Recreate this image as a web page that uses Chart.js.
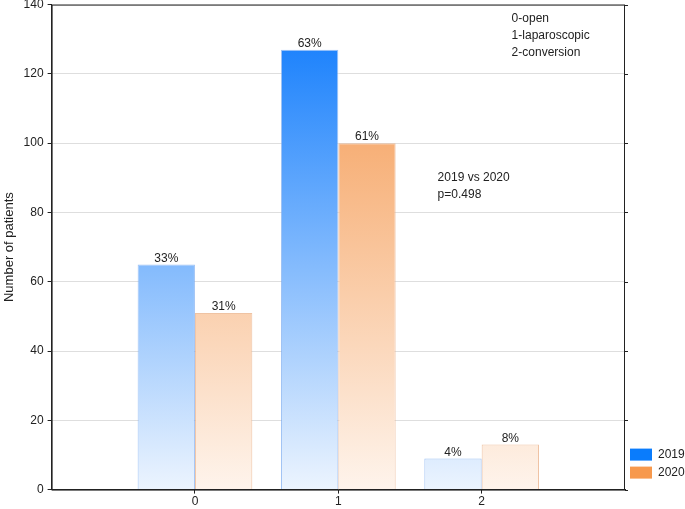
<!DOCTYPE html>
<html>
<head>
<meta charset="utf-8">
<script src="https://cdn.jsdelivr.net/npm/chart.js@4/dist/chart.umd.min.js"></script>
<style>
  body { margin: 0; background: #fff; }
  #wrap { width: 685px; height: 509px; }
</style>
</head>
<body>
<div id="wrap"><canvas id="barChart"></canvas></div>
<script>
// data
const categories = ["0", "1", "2"];
const patients2019 = [65, 127, 9];
const patients2020 = [51, 100, 13];
const pct2019 = ["33%", "63%", "4%"];
const pct2020 = ["31%", "61%", "8%"];
const yTicks = [0, 20, 40, 60, 80, 100, 120, 140];
const typeNotes = ["0-open", "1-laparoscopic", "2-conversion"];
const testNotes = ["2019 vs 2020", "p=0.498"];
const legendColors = ["#0a7cfc", "#f7994d"];

// empty slots either side so the three groups sit where the original has them
const labels = ["", ...categories, ""];
const pad = arr => [null, ...arr, null];

Chart.defaults.font.family = "'Liberation Sans', Arial, sans-serif";
Chart.defaults.font.size = 12;
Chart.defaults.color = "#222";

function grad(ctx, top, bottom) {
  const area = ctx.chart.chartArea;
  if (!area) return top;
  const g = ctx.chart.ctx.createLinearGradient(0, area.top, 0, area.bottom);
  g.addColorStop(0, top);
  g.addColorStop(1, bottom);
  return g;
}

// percentages above bars, notes, frame, legend
const extras = {
  id: "extras",
  afterDatasetsDraw(chart) {
    const c = chart.ctx;
    const a = chart.chartArea;
    const y = chart.scales.y;
    c.save();
    c.fillStyle = "#222";
    c.font = "12px 'Liberation Sans', Arial, sans-serif";
    c.textAlign = "center";
    c.textBaseline = "bottom";
    [pct2019, pct2020].forEach((pcts, di) => {
      chart.getDatasetMeta(di).data.forEach((bar, i) => {
        const t = pcts[i - 1];
        if (t && bar && !isNaN(bar.y)) c.fillText(t, bar.x, bar.y);
      });
    });
    c.textAlign = "left";
    c.textBaseline = "middle";
    typeNotes.forEach((t, i) => c.fillText(t, a.left + 460, a.top + 14 + i * 17));
    testNotes.forEach((t, i) => c.fillText(t, a.left + 386, a.top + 173 + i * 17));

    // frame and small outer ticks on the right side
    c.strokeStyle = "#222";
    c.lineWidth = 1;
    c.strokeRect(a.left + 0.5, a.top + 0.5, a.right - a.left - 1, a.bottom - a.top);
    c.beginPath();
    yTicks.forEach(v => {
      const py = Math.round(y.getPixelForValue(v)) + 0.5;
      c.moveTo(a.right, py);
      c.lineTo(a.right + 3, py);
    });
    c.stroke();

    // legend, bottom right outside the plot
    chart.data.datasets.forEach((ds, i) => {
      const ly = a.bottom - 41 + i * 18;
      c.fillStyle = legendColors[i];
      c.fillRect(a.right + 5, ly, 22, 12);
      c.fillStyle = "#222";
      c.fillText(ds.label, a.right + 33, ly + 6.5);
    });
    c.restore();
  }
};

const ctx = document.getElementById("barChart").getContext("2d");
new Chart(ctx, {
  type: "bar",
  data: {
    labels: labels,
    datasets: [
      {
        label: "2019",
        data: pad(patients2019),
        backgroundColor: c => grad(c, "rgb(10,120,252)", "rgb(236,244,254)"),
        borderColor: "rgba(120,170,240,0.7)",
        borderWidth: 1,
        categoryPercentage: 0.8,
        barPercentage: 1.0
      },
      {
        label: "2020",
        data: pad(patients2020),
        backgroundColor: c => grad(c, "rgb(244,148,72)", "rgb(254,244,236)"),
        borderColor: "rgba(235,180,140,0.8)",
        borderWidth: 1,
        categoryPercentage: 0.8,
        barPercentage: 1.0
      }
    ]
  },
  options: {
    responsive: true,
    maintainAspectRatio: false,
    animation: false,
    layout: { padding: { top: 0, right: 60, bottom: -1, left: 0 } },
    plugins: {
      tooltip: { enabled: false },
      legend: { display: false }
    },
    scales: {
      x: {
        offset: false,
        grid: {
          offset: false,
          drawOnChartArea: false,
          drawTicks: true,
          tickLength: 4,
          tickColor: c => (labels[c.index] ? "#222" : "rgba(0,0,0,0)")
        },
        border: { color: "#222" },
        ticks: { padding: 1, maxRotation: 0, autoSkip: false }
      },
      y: {
        min: 0,
        max: 140,
        afterBuildTicks: axis => { axis.ticks = yTicks.map(v => ({ value: v })); },
        grid: { color: "#dedede", tickColor: "#222", tickLength: 4 },
        border: { color: "#222" },
        ticks: { padding: 4, font: { size: 12, lineHeight: 0.1 } },
        title: { display: true, text: "Number of patients", font: { size: 13 }, padding: 2 }
      }
    }
  },
  plugins: [extras]
});
</script>
</body>
</html>
